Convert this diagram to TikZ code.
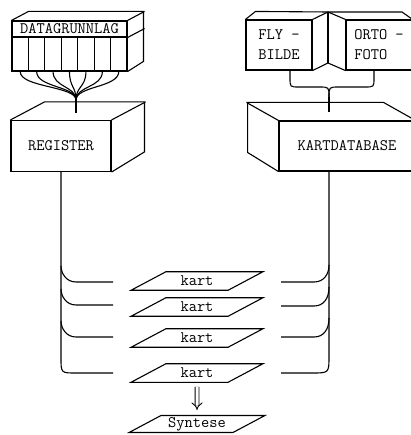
\documentclass[tikz,border=0pt]{standalone}
\usetikzlibrary{shapes.geometric,arrows.meta}
\begin{document}
\begin{tikzpicture}[x=1pt,y=-1pt,line width=1.1pt,font=\ttfamily\fontsize{16}{20}\selectfont]
        \tikzstyle{block}=[draw,rectangle,inner sep=0pt]
        \tikzstyle{cell}=[draw,rectangle,inner sep=0pt,minimum width=16.43pt,minimum height=34pt]
        \tikzstyle{sheet}=[draw,trapezium,trapezium left angle=28,trapezium right angle=152,minimum width=132pt,minimum height=17pt,inner sep=0pt]
        \tikzstyle{wire}=[draw]
       \useasboundingbox (0,0) rectangle (410,435);
       \begin{scope}
         % datagrunnlag
         \node [block,minimum width=115pt,minimum height=16pt] (dg) at (69.5,29) {DATAGRUNNLAG};
         \foreach \i in {0,...,6}
           \node [cell] (c\i) at ({20.2+16.43*\i},54) {};
         \draw (dg.north west) -- ++(17,-9) -- ++(115,0) -- ++(0,50) -- (c6.south east);
         \draw ([shift={(17,-9)}]dg.south east) -- (dg.south east);
         \draw ([shift={(17,-9)}]dg.north east) -- (dg.north east);
         \coordinate (hub) at (76,100);
         \coordinate (regtop) at (76,113);
         \foreach \i in {0,...,6}
           \path[wire] (c\i.south) .. controls ++(0,16) and (76,86) .. (hub);
         \path[wire] (hub) -- (regtop);
         % register
         \node [block,minimum width=100pt,minimum height=51pt] (reg) at (61,146) {REGISTER};
         \draw (reg.north west) -- ++(34,-18) -- ++(100,0) -- ++(0,50) -- (reg.south east);
         \draw ([shift={(34,-18)}]reg.north east) -- (reg.north east);
         % flybilde / ortofoto
         \node [block,minimum width=66pt,minimum height=50pt,align=left] (fly) at (279,45) {FLY -\\BILDE};
         \node [block,minimum width=66pt,minimum height=50pt,align=left] (orto) at (379,45) {ORTO -\\FOTO};
         \coordinate (spt) at (328,12);
         \coordinate (spb) at (328,63);
         \draw (fly.north east) -- (spt) -- (orto.north west);
         \draw (fly.south east) -- (spb) -- (orto.south west);
         \draw (spt) -- (spb);
         \draw (fly.north west) -- ++(10,-8) -- (spt) -- ++(74,0) -- (orto.north east);
         \coordinate (fork) at (329,97);
         \coordinate (kdbtop) at (329,112);
         \path[wire] ([xshift=11pt]fly.south) -- (290,78) .. controls (290,87) .. (299,87) -- (319,87) .. controls (329,87) .. (fork);
         \path[wire] ([xshift=-5pt]orto.south) -- (374,78) .. controls (374,87) .. (365,87) -- (339,87) .. controls (329,87) .. (fork);
         \path[wire] (fork) -- (kdbtop);
         % kartdatabase
         \node [block,minimum width=136pt,minimum height=50pt] (kdb) at (347,146) {KARTDATABASE};
         \draw (kdb.north east) -- ++(-32,-18) -- ++(-136,0) -- ++(0,50) -- (kdb.south west);
         \draw ([shift={(-32,-18)}]kdb.north west) -- (kdb.north west);
         % kart
         \node [sheet] (k1) at (197,281) {kart};
         \node [sheet] (k2) at (197,307) {kart};
         \node [sheet] (k3) at (197,338) {kart};
         \node [sheet] (k4) at (197,373) {kart};
         \node [sheet] (syn) at (197,424) {Syntese};
         \draw [double,double distance=3pt,line width=0.9pt,-{Implies},shorten <=4pt,shorten >=5pt] (k4.south) -- (syn.north);
         % left bus
         \path[wire] (reg.south) -- (61,358) .. controls (61,373) .. (76,373) -- (113,373);
         \foreach \y/\s in {282/266,305/289,337/321}
           \path[wire] (61,\s) .. controls (61,\y-9) and (66,\y) .. (76,\y) -- (113,\y);
         % right bus
         \coordinate (kdbout) at (329,171);
         \path[wire] (kdbout) -- (329,356) .. controls (329,373) .. (312,373) -- (281,373);
         \foreach \y/\s in {282/265,306/287,337/318}
           \path[wire] (329,\s) .. controls (329,\y-8) and (324,\y) .. (314,\y) -- (281,\y);
        \end{scope}
      \end{tikzpicture}
\end{document}
